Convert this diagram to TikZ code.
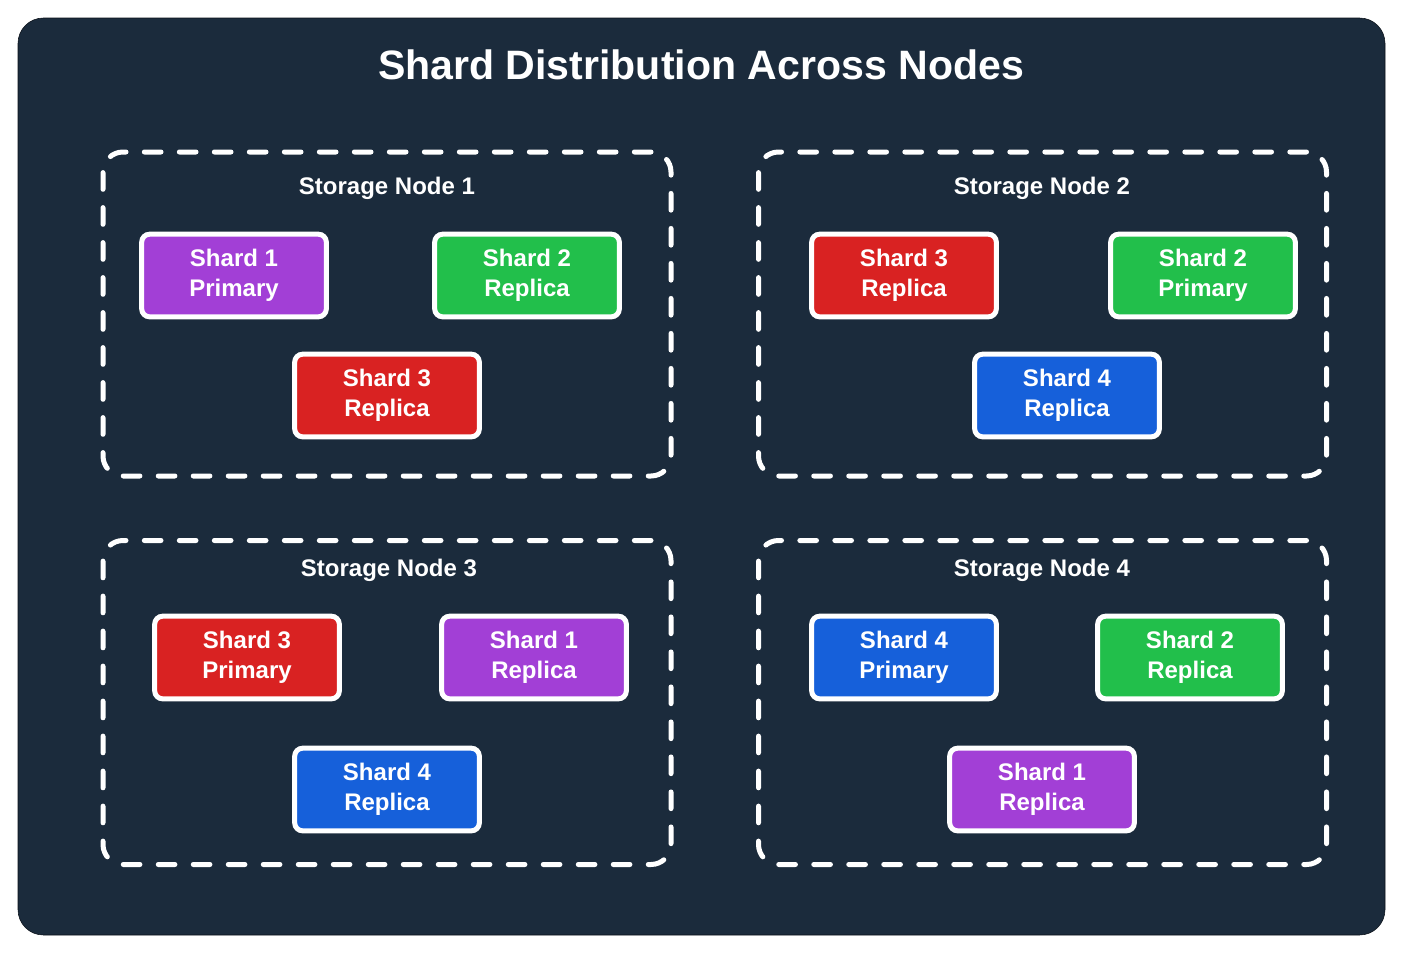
\documentclass[tikz,border=0pt]{standalone}
\usepackage{fontspec}
\setmainfont{Liberation Sans}
\definecolor{bgdark}{HTML}{1B2B3C}
\definecolor{shpurple}{HTML}{A23FD6}
\definecolor{shgreen}{HTML}{22BF4B}
\definecolor{shred}{HTML}{D92222}
\definecolor{shblue}{HTML}{1660DA}
\tikzset{
    storagebox/.style={draw=white, line width=3.75pt, dash pattern=on 12.5pt off 13.75pt, line cap=round, rounded corners=15pt, minimum width=426pt, minimum height=243pt},
    storagelabel/.style={text=white, font=\fontsize{18}{22}\selectfont\bfseries},
    shardbox/.style={draw=white, line width=3.75pt, rounded corners=6pt, minimum width=138.5pt, minimum height=62pt, align=center, text=white, font=\fontsize{18}{22.5}\selectfont\bfseries},
}
\begin{document}
\begin{tikzpicture}[x=0.75pt, y=-0.75pt]
    \useasboundingbox (0,0) rectangle (1403,953);
    \fill[bgdark, draw=black!60!bgdark, rounded corners=19pt] (18,18) rectangle (1385,935);
    \node[text=white, font=\fontsize{30.8}{37}\selectfont\bfseries] (title) at (701,65) {Shard Distribution Across Nodes};

    % storage nodes
    \node[storagebox] (sn1) at (387,314) {};
    \node[storagebox] (sn2) at (1042.5,314) {};
    \node[storagebox] (sn3) at (387,702.5) {};
    \node[storagebox] (sn4) at (1042.5,702.5) {};
    \node[storagelabel] (l1) at (387,188) {Storage Node 1};
    \node[storagelabel] (l2) at (1042,188) {Storage Node 2};
    \node[storagelabel] (l3) at (389,570) {Storage Node 3};
    \node[storagelabel] (l4) at (1042,570) {Storage Node 4};

    % node 1
    \node[shardbox, fill=shpurple] (n1s1) at (234,275.5) {Shard 1\\Primary};
    \node[shardbox, fill=shgreen] (n1s2) at (527,275.5) {Shard 2\\Replica};
    \node[shardbox, fill=shred] (n1s3) at (387,395.5) {Shard 3\\Replica};
    % node 2
    \node[shardbox, fill=shred] (n2s3) at (904,275.5) {Shard 3\\Replica};
    \node[shardbox, fill=shgreen] (n2s2) at (1203,275.5) {Shard 2\\Primary};
    \node[shardbox, fill=shblue] (n2s4) at (1067,395.5) {Shard 4\\Replica};
    % node 3
    \node[shardbox, fill=shred] (n3s3) at (247,657.5) {Shard 3\\Primary};
    \node[shardbox, fill=shpurple] (n3s1) at (534,657.5) {Shard 1\\Replica};
    \node[shardbox, fill=shblue] (n3s4) at (387,789.5) {Shard 4\\Replica};
    % node 4
    \node[shardbox, fill=shblue] (n4s4) at (904,657.5) {Shard 4\\Primary};
    \node[shardbox, fill=shgreen] (n4s2) at (1190,657.5) {Shard 2\\Replica};
    \node[shardbox, fill=shpurple] (n4s1) at (1042,789.5) {Shard 1\\Replica};
\end{tikzpicture}
\end{document}
